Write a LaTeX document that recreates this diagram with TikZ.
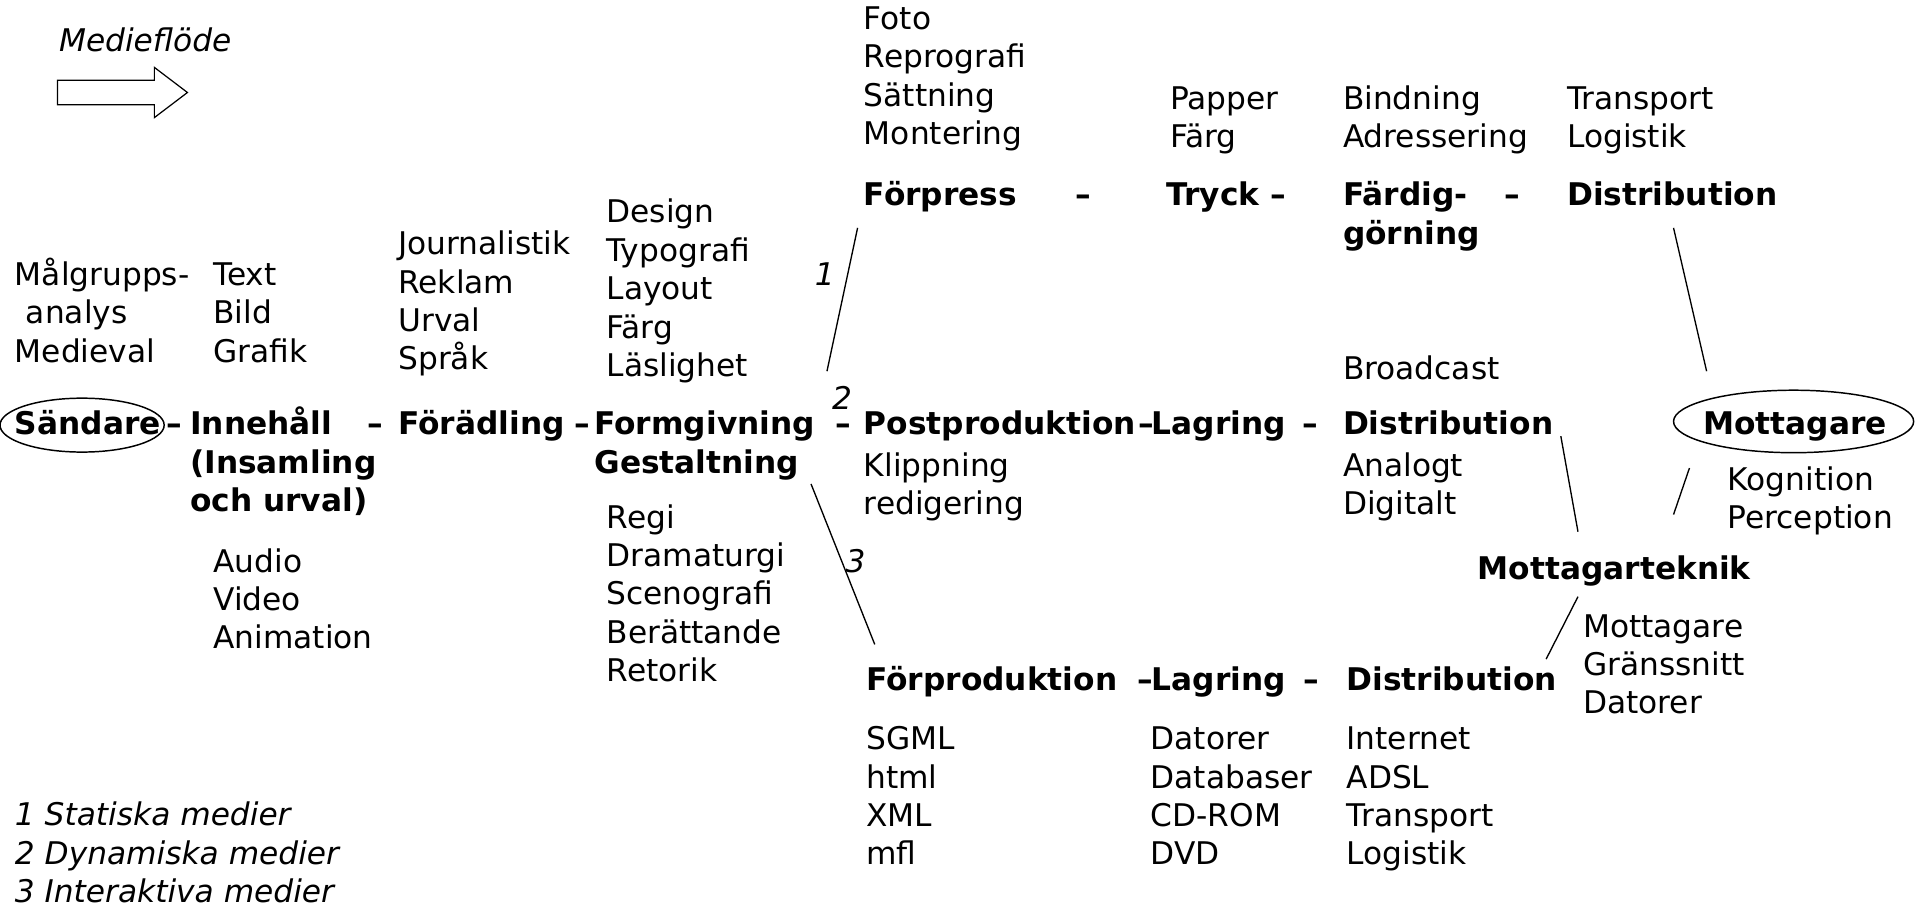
\documentclass[tikz,border=0pt]{standalone}
\usepackage{fontspec}
\setmainfont{DejaVu Sans}
\newcommand\lns[1]{\vtop{\halign{##\hfil\cr#1\crcr}}}
\begin{document}
\begin{tikzpicture}[x=1pt,y=-1pt,
  txt/.style={inner sep=0pt, anchor=base west, font=\fontsize{25.5}{31.3}\selectfont},
  bld/.style={txt, font=\fontsize{25.5}{31.3}\selectfont\bfseries},
  itl/.style={txt, font=\fontsize{25.5}{31.3}\selectfont\itshape},
  ln/.style={draw, line width=1.1pt},
  ring/.style={draw, line width=1.2pt}]
\useasboundingbox (0,0) rectangle (1568,744);

% flow arrow
\node[itl] (mf) at (48,42) {Medieflöde};
\draw[line width=1pt] (47,65.5) -- (126,65.5) -- (126,55) -- (153,75.5) -- (126,96) -- (126,85.5) -- (47,85.5) -- cycle;

% upper sub-lists
\node[txt] (malg) at (12,233) {\lns{Målgrupps-\cr\hskip9pt analys\cr Medieval}};
\node[txt] (text) at (174,233) {\lns{Text\cr Bild\cr Grafik}};
\node[txt] (jour) at (325,208) {\lns{Journalistik\cr Reklam\cr Urval\cr Språk}};
\node[txt] (design) at (495,182) {\lns{Design\cr Typografi\cr Layout\cr Färg\cr Läslighet}};
\node[txt] (foto) at (705,24) {\lns{Foto\cr Reprografi\cr Sättning\cr Montering}};
\node[txt] (papper) at (955,89) {\lns{Papper\cr Färg}};
\node[txt] (bind) at (1096,89) {\lns{Bindning\cr Adressering}};
\node[txt] (transp) at (1279,89) {\lns{Transport\cr Logistik}};

% top chain (static media)
\node[bld] (forpress) at (705,168) {Förpress};
\node[bld] (d1) at (878,168) {–};
\node[bld] (tryck) at (952,168) {Tryck};
\node[bld] (d2) at (1037,168) {–};
\node[bld] (fardig) at (1096,168) {\lns{Färdig-\cr görning}};
\node[bld] (d3) at (1228,168) {–};
\node[bld] (distA) at (1279,168) {Distribution};

% main chain
\node[bld] (sandare) at (12,355) {Sändare};
\node[bld] (d4) at (136,355) {–};
\node[bld] (innehall) at (155,355) {\lns{Innehåll\cr (Insamling\cr och urval)}};
\node[bld] (d5) at (300,355) {–};
\node[bld] (foradling) at (325,355) {Förädling};
\node[bld] (d6) at (469,355) {–};
\node[bld] (formg) at (485,355) {\lns{Formgivning\cr Gestaltning}};
\node[bld] (d7) at (682,355) {–};
\node[bld] (postp) at (705,355) {Postproduktion};
\node[bld] (d8) at (929,355) {–};
\node[bld] (lagB) at (940,355) {Lagring};
\node[bld] (d9) at (1063,355) {–};
\node[bld] (distB) at (1096,355) {Distribution};
\node[bld] (mott) at (1390,355) {Mottagare};
\draw[ring] (67,347) ellipse [x radius=67, y radius=22];
\draw[ring] (1464,344) ellipse [x radius=98, y radius=25.5];

\node[txt] (klipp) at (705,389) {\lns{Klippning\cr redigering}};
\node[txt] (broad) at (1096,310) {Broadcast};
\node[txt] (analog) at (1096,389) {\lns{Analogt\cr Digitalt}};
\node[txt] (kogn) at (1410,400) {\lns{Kognition\cr Perception}};
\node[bld] (mteknik) at (1206,473) {Mottagarteknik};
\node[txt] (mgd) at (1292,520) {\lns{Mottagare\cr Gränssnitt\cr Datorer}};
\node[txt] (regi) at (495,431) {\lns{Regi\cr Dramaturgi\cr Scenografi\cr Berättande\cr Retorik}};
\node[txt] (audio) at (174,467) {\lns{Audio\cr Video\cr Animation}};

% bottom chain (interactive media)
\node[bld] (forprod) at (707,564) {Förproduktion};
\node[bld] (d10) at (928,564) {–};
\node[bld] (lagC) at (940,564) {Lagring};
\node[bld] (d11) at (1064,564) {–};
\node[bld] (distC) at (1099,564) {Distribution};
\node[txt] (sgml) at (707,612) {\lns{SGML\cr html\cr XML\cr mfl}};
\node[txt] (dator) at (939,612) {\lns{Datorer\cr Databaser\cr CD-ROM\cr DVD}};
\node[txt] (inet) at (1099,612) {\lns{Internet\cr ADSL\cr Transport\cr Logistik}};

% legend and branch numbers
\node[itl] (leg) at (12,674) {\lns{1 Statiska medier\cr 2 Dynamiska medier\cr 3 Interaktiva medier}};
\node[itl] (n1) at (665,233) {1};
\node[itl] (n2) at (679,334) {2};
\node[itl] (n3) at (690,467) {3};

% connectors
\coordinate (a1) at (700,186); \coordinate (b1) at (675,303);
\coordinate (a3) at (662,395); \coordinate (b3) at (714,526);
\coordinate (ar1) at (1366,186); \coordinate (br1) at (1393,303);
\coordinate (ar2) at (1274,356); \coordinate (br2) at (1288,434);
\coordinate (ar3) at (1379,382); \coordinate (br3) at (1366,420);
\coordinate (ar4) at (1288,487); \coordinate (br4) at (1262,538);
\draw[ln] (a1) -- (b1);
\draw[ln] (a3) -- (b3);
\draw[ln] (ar1) -- (br1);
\draw[ln] (ar2) -- (br2);
\draw[ln] (ar3) -- (br3);
\draw[ln] (ar4) -- (br4);
\end{tikzpicture}
\end{document}
